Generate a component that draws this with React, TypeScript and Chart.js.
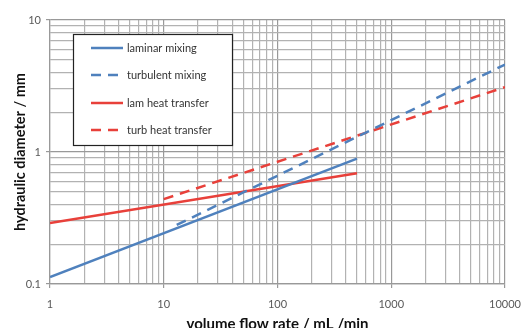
import React, { useEffect, useRef } from 'react';
import { Chart, registerables } from 'chart.js';

Chart.register(...registerables);

// ---- data ----
const xTickLabels = [1, 10, 100, 1000, 10000];
const yTickLabels = [0.1, 1, 10];

const seriesNames = ['laminar mixing', 'turbulent mixing', 'lam heat transfer', 'turb heat transfer'];

const laminarMixingX = [1, 500];
const laminarMixingY = [0.113, 0.89];

const turbulentMixingX = [13, 10000];
const turbulentMixingY = [0.28, 4.6];

const lamHeatX = [1, 500];
const lamHeatY = [0.29, 0.69];

const turbHeatX = [10, 10000];
const turbHeatY = [0.44, 3.1];

const xTitle = 'volume flow rate / mL /min';
const yTitle = 'hydraulic diameter / mm';

// ---- styles ----
const BLUE = '#4F81BD';
const RED = '#E8403A';
const FONT = 'Lato, "Liberation Sans", sans-serif';

const pts = (xs: number[], ys: number[]) => xs.map((x, i) => ({ x, y: ys[i] }));

const logTicks = (majors: number[]) => {
  const out: { value: number }[] = [];
  for (let i = 0; i < majors.length - 1; i++) {
    for (let k = 1; k <= 9; k++) out.push({ value: +(majors[i] * k).toPrecision(6) });
  }
  out.push({ value: majors[majors.length - 1] });
  return out;
};

const legendPlugin = {
  id: 'boxLegend',
  afterDraw(chart: any) {
    const ctx = chart.ctx;
    const x0 = 73, y0 = 34, w = 159, h = 111;
    ctx.save();
    ctx.fillStyle = '#ffffff';
    ctx.fillRect(x0, y0, w, h);
    ctx.strokeStyle = '#222222';
    ctx.lineWidth = 1.2;
    ctx.strokeRect(x0 + 0.5, y0 + 0.5, w, h);
    const rows = [48, 75, 103, 130];
    chart.data.datasets.forEach((ds: any, i: number) => {
      const y = rows[i];
      ctx.beginPath();
      ctx.strokeStyle = ds.borderColor;
      ctx.lineWidth = 2.5;
      ctx.setLineDash(ds.borderDash || []);
      ctx.moveTo(91, y);
      ctx.lineTo(123, y);
      ctx.stroke();
      ctx.setLineDash([]);
      ctx.fillStyle = '#333333';
      ctx.font = `11px ${FONT}`;
      ctx.textBaseline = 'middle';
      ctx.textAlign = 'left';
      ctx.fillText(ds.label, 127, y);
    });
    ctx.restore();
  },
};

export default function App() {
  const ref = useRef<HTMLCanvasElement | null>(null);

  useEffect(() => {
    document.body.style.margin = '0';
    if (!ref.current) return;
    const majorX = new Set(xTickLabels);
    const majorY = new Set(yTickLabels);
    const gridColor = (set: Set<number>) => (c: any) =>
      c.tick && set.has(c.tick.value) ? '#999999' : '#b2b2b2';
    const tickColor = (set: Set<number>) => (c: any) =>
      c.tick && set.has(c.tick.value) ? '#999999' : 'rgba(0,0,0,0)';

    const chart = new Chart(ref.current, {
      type: 'line',
      data: {
        datasets: [
          {
            label: seriesNames[0],
            data: pts(laminarMixingX, laminarMixingY),
            borderColor: BLUE,
            borderWidth: 2.5,
            pointRadius: 0,
          },
          {
            label: seriesNames[1],
            data: pts(turbulentMixingX, turbulentMixingY),
            borderColor: BLUE,
            borderWidth: 2.5,
            borderDash: [10, 7],
            pointRadius: 0,
          },
          {
            label: seriesNames[2],
            data: pts(lamHeatX, lamHeatY),
            borderColor: RED,
            borderWidth: 2.5,
            pointRadius: 0,
          },
          {
            label: seriesNames[3],
            data: pts(turbHeatX, turbHeatY),
            borderColor: RED,
            borderWidth: 2.5,
            borderDash: [10, 7],
            pointRadius: 0,
          },
        ],
      },
      options: {
        responsive: false,
        animation: false,
        layout: { padding: { left: 0, right: 19, top: 20, bottom: 0 } },
        plugins: {
          legend: { display: false },
          tooltip: { enabled: false },
        },
        scales: {
          x: {
            type: 'logarithmic',
            min: xTickLabels[0],
            max: xTickLabels[xTickLabels.length - 1],
            afterBuildTicks: (s: any) => {
              s.ticks = logTicks(xTickLabels);
            },
            afterFit: (s: any) => {
              s.height = 44;
              s.paddingLeft = 0;
              s.paddingRight = 0;
            },
            ticks: {
              autoSkip: false,
              maxRotation: 0,
              padding: 10,
              color: '#595959',
              font: { family: FONT, size: 11 },
              callback: (v: any) => (majorX.has(v) ? String(v) : ''),
            },
            grid: {
              color: gridColor(majorX),
              tickColor: tickColor(majorX),
              tickLength: 4,
              lineWidth: 1.2,
            },
            border: { color: '#999999', width: 1.2 },
            title: {
              display: true,
              text: xTitle,
              color: '#111111',
              font: { family: FONT, size: 15, weight: 'bold' },
              padding: { top: 0, bottom: -5 },
            },
          },
          y: {
            type: 'logarithmic',
            min: yTickLabels[0],
            max: yTickLabels[yTickLabels.length - 1],
            afterBuildTicks: (s: any) => {
              s.ticks = logTicks(yTickLabels);
            },
            afterFit: (s: any) => {
              s.width = 50;
            },
            ticks: {
              autoSkip: false,
              padding: 5,
              color: '#595959',
              font: { family: FONT, size: 11 },
              callback: (v: any) => (majorY.has(v) ? String(v) : ''),
            },
            grid: {
              color: gridColor(majorY),
              tickColor: tickColor(majorY),
              tickLength: 4,
              lineWidth: 1.2,
            },
            border: { color: '#999999', width: 1.2 },
            title: {
              display: true,
              text: yTitle,
              color: '#111111',
              font: { family: FONT, size: 14.5, weight: 'bold' },
              padding: { top: 12, bottom: 0 },
            },
          },
        },
      },
      plugins: [legendPlugin],
    } as any);
    return () => chart.destroy();
  }, []);

  return <canvas ref={ref} width={524} height={328} style={{ display: 'block' }} />;
}
